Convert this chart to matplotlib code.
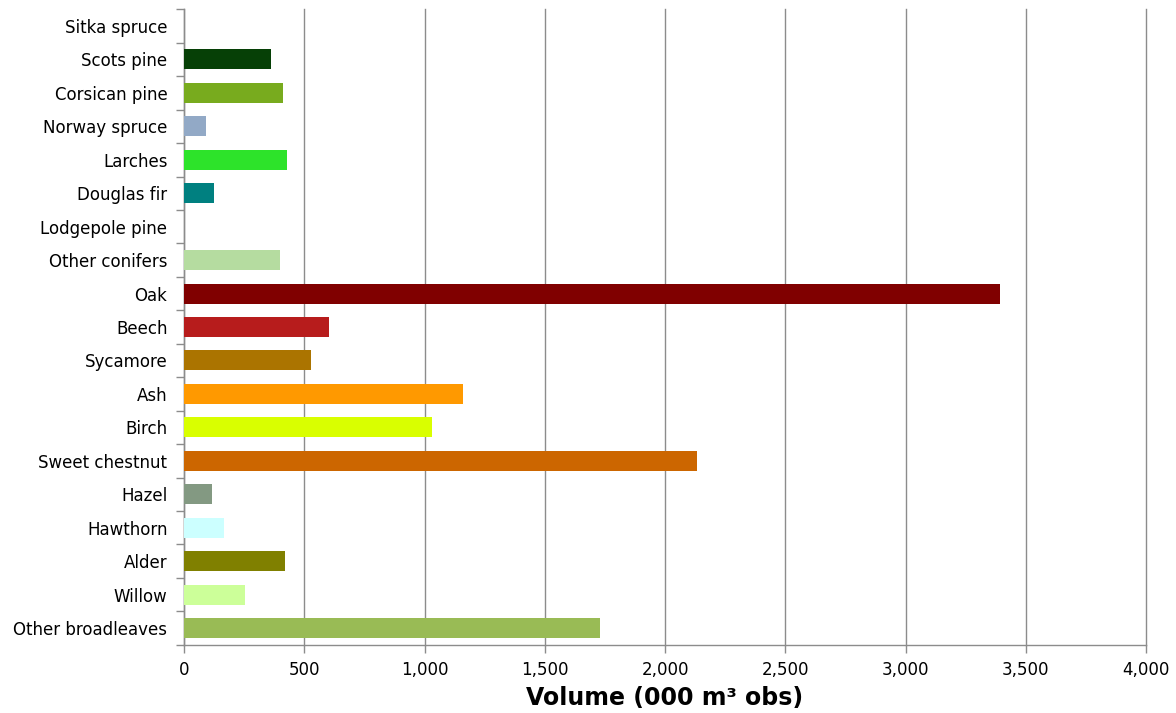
import numpy as np
import matplotlib
matplotlib.use("Agg")
import matplotlib.pyplot as plt
from matplotlib.ticker import FuncFormatter, FixedLocator

species = ["Sitka spruce", "Scots pine", "Corsican pine", "Norway spruce", "Larches",
           "Douglas fir", "Lodgepole pine", "Other conifers", "Oak", "Beech",
           "Sycamore", "Ash", "Birch", "Sweet chestnut", "Hazel", "Hawthorn",
           "Alder", "Willow", "Other broadleaves"]
volume = [0, 361, 411, 92, 430, 126, 0, 397, 3393, 604,
          526, 1160, 1032, 2132, 118, 165, 418, 253, 1728]
colours = ["#ffffff", "#064006", "#78ab1e", "#92a9c6", "#2de32a",
           "#008080", "#ffffff", "#b5dca0", "#800000", "#b71c1c",
           "#ab7400", "#ff9900", "#d9ff00", "#cc6600", "#839982", "#ccffff",
           "#808000", "#ccff99", "#99bb55"]

plt.rcParams["font.family"] = ["DejaVu Sans"]

fig = plt.figure(figsize=(11.76, 7.13), dpi=100)
ax = fig.add_axes([0.1565, 0.0957, 0.818, 0.8913])

y = np.arange(len(species))
ax.barh(y, volume, height=0.6, color=colours, zorder=3)

ax.set_xlim(0, 4000)
ax.set_ylim(len(species) - 0.5, -0.5)
ax.set_xticks(np.arange(0, 4001, 500))
ax.xaxis.set_major_formatter(FuncFormatter(lambda v, p: f"{int(v):,}"))
ax.grid(axis="x", color="#8c8c8c", linewidth=1.0, zorder=0)
for gl in ax.get_xgridlines():
    gl.set_clip_on(False)

ax.set_yticks(y)
ax.set_yticklabels(species)
ax.yaxis.set_minor_locator(FixedLocator(np.arange(-0.5, len(species), 1.0)))
ax.tick_params(axis="y", which="major", length=0, pad=12, labelsize=12)
ax.tick_params(axis="y", which="minor", length=6, color="#8c8c8c", width=1)
ax.tick_params(axis="x", which="major", length=6, color="#8c8c8c", width=1,
               labelsize=12, pad=6)

for side in ("top", "right"):
    ax.spines[side].set_visible(False)
for side in ("left", "bottom"):
    ax.spines[side].set_color("#8c8c8c")
    ax.spines[side].set_linewidth(1.0)

ax.set_xlabel("Volume (000 m³ obs)", fontsize=17, fontweight="bold", labelpad=5)

fig.savefig("out.png", dpi=100, facecolor="white")
